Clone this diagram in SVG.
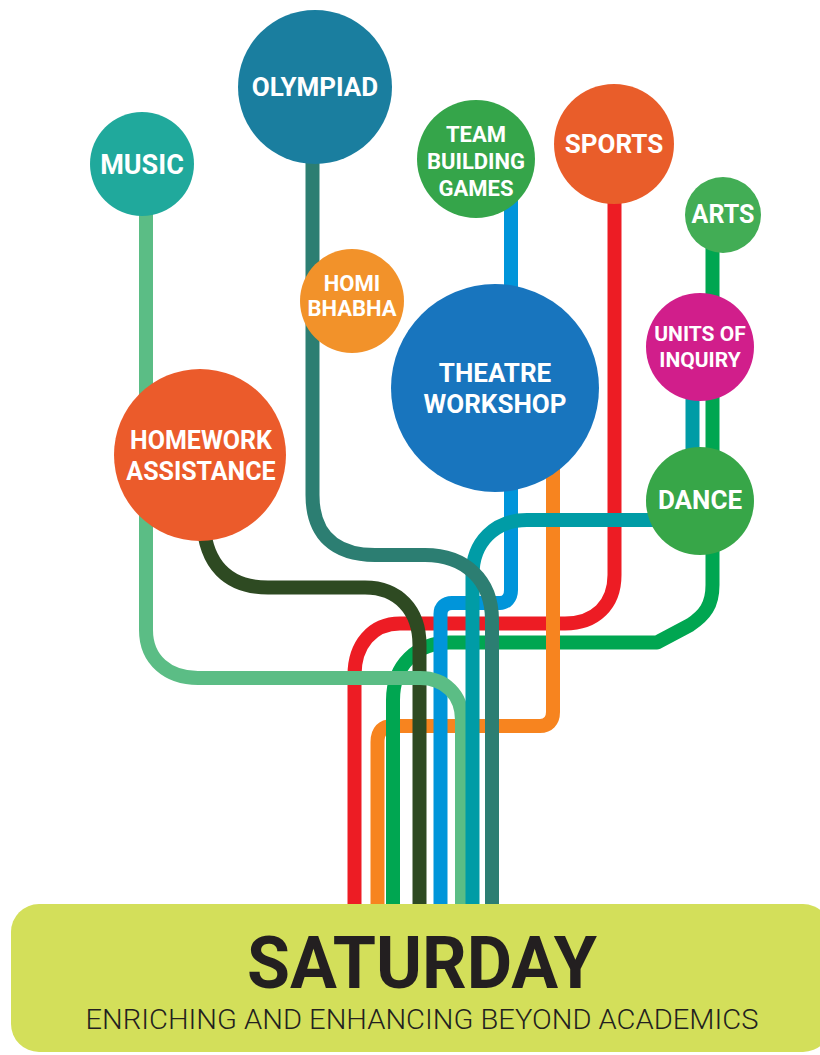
<svg xmlns="http://www.w3.org/2000/svg" width="820" height="1055" viewBox="0 0 820 1055">
<style>
.ln{fill:none;stroke-width:14;stroke-linecap:butt;stroke-linejoin:round}
.lb{font-family:Roboto,"Liberation Sans",Arial,sans-serif;font-weight:700;fill:#ffffff;text-anchor:middle}
</style>
<rect width="820" height="1055" fill="#ffffff"/>
<g id="connectors">
<path class="ln" stroke="#ed1c24" d="M614.5,200 V575 C614.5,605 595,623.5 565,623.5 H400 C372,623.5 354.5,645 354.5,675 V905"/>
<path class="ln" stroke="#00a651" d="M712.5,240 V585 C712.5,605 705,615 690,625 L657,642.5 H450 C417,642.5 393,665 393,700 V905"/>
<path class="ln" stroke="#f7841f" d="M553,430 V712 C553,721 548,726 540,726 H392 C383,726 377.5,731 377.5,742 V905"/>
<path class="ln" stroke="#00a651" d="M393,700 V905"/>
<path class="ln" stroke="#2e4a22" d="M203,520 C205,565 228,587.5 268,587.5 H365 C398,587.5 419.5,610 419.5,645 V905"/>
<path class="ln" stroke="#0095da" d="M511,200 V590 C511,598 506,603 500,603 H452 C445,603 440.5,607 440.5,614 V905"/>
<path class="ln" stroke="#5bbd85" d="M146,200 V630 C146,660 168,678 198,678 H420 C445,678 462,695 462,720 V905"/>
<path class="ln" stroke="#009ca6" d="M692.5,390 V505 C692.5,515 688,520 678,520 H527 C495,520 472.5,542 472.5,575 V905"/>
<path class="ln" stroke="#2c7e72" d="M312.5,150 V495 C312.5,535 335,555 375,555 H425 C465,555 492,580 492,620 V905"/>
</g>
<g id="node-music"><circle cx="142" cy="164" r="52" fill="#20a99c"/><text class="lb" x="142" y="174" font-size="27">MUSIC</text></g>
<g id="node-olympiad"><circle cx="315" cy="87" r="77" fill="#1a7e9f"/><text class="lb" x="315" y="96" font-size="26">OLYMPIAD</text></g>
<g id="node-team"><circle cx="476" cy="159" r="59" fill="#35a54a"/><text class="lb" font-size="22"><tspan x="476" y="142">TEAM</tspan><tspan x="476" y="169">BUILDING</tspan><tspan x="476" y="196">GAMES</tspan></text></g>
<g id="node-sports"><circle cx="614" cy="144" r="60" fill="#e95d2a"/><text class="lb" x="614" y="153" font-size="26">SPORTS</text></g>
<g id="node-arts"><circle cx="723" cy="215" r="38" fill="#42ad55"/><text class="lb" x="723" y="223" font-size="25">ARTS</text></g>
<g id="node-units"><circle cx="700" cy="347" r="54" fill="#d11e8b"/><text class="lb" font-size="21"><tspan x="700" y="341">UNITS OF</tspan><tspan x="700" y="367">INQUIRY</tspan></text></g>
<g id="node-dance"><circle cx="700" cy="501" r="54" fill="#37a648"/><text class="lb" x="700" y="509" font-size="26">DANCE</text></g>
<g id="node-homi"><circle cx="352" cy="301" r="52" fill="#f2922a"/><text class="lb" font-size="22"><tspan x="352" y="291">HOMI</tspan><tspan x="352" y="316">BHABHA</tspan></text></g>
<g id="node-theatre"><circle cx="495" cy="388" r="104" fill="#1875be"/><text class="lb" font-size="26"><tspan x="495" y="382">THEATRE</tspan><tspan x="495" y="413">WORKSHOP</tspan></text></g>
<g id="node-homework"><circle cx="200" cy="455" r="86" fill="#eb5b2b"/><text class="lb" font-size="25"><tspan x="201" y="449">HOMEWORK</tspan><tspan x="201" y="480">ASSISTANCE</tspan></text></g>
<g id="node-saturday">
<rect x="11" y="904" width="820" height="148" rx="28" fill="#d3df5a"/>
<text x="422" y="988" font-family="Roboto,'Liberation Sans',Arial,sans-serif" font-weight="700" font-size="72" fill="#231f20" text-anchor="middle" textLength="350" lengthAdjust="spacingAndGlyphs">SATURDAY</text>
<text x="422" y="1029" font-family="Roboto,'Liberation Sans',Arial,sans-serif" font-weight="300" font-size="27" fill="#231f20" text-anchor="middle" textLength="673" lengthAdjust="spacingAndGlyphs">ENRICHING AND ENHANCING BEYOND ACADEMICS</text>
</g>
</svg>
